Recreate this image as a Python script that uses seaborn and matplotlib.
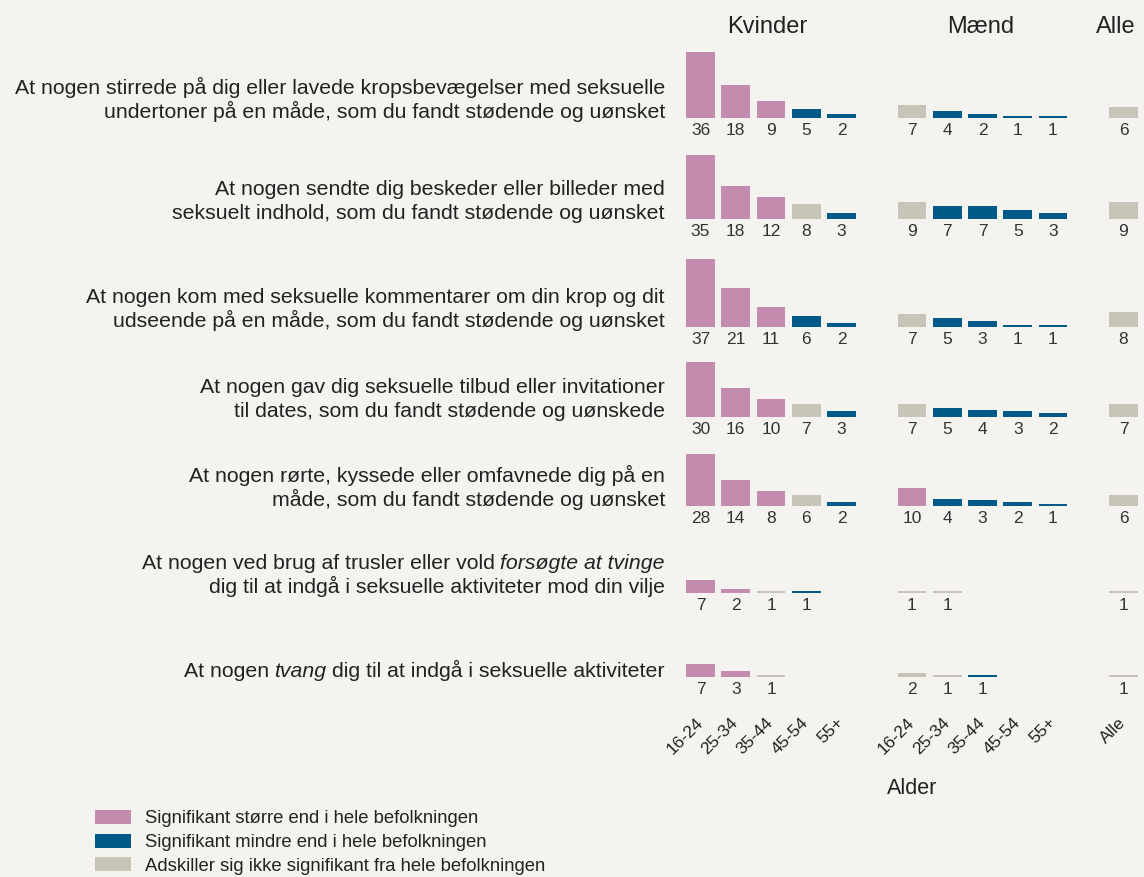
import numpy as np
import pandas as pd
import matplotlib
matplotlib.use("Agg")
import matplotlib.pyplot as plt
from matplotlib import transforms
from matplotlib.patches import Patch
import seaborn as sns

# ---------------- data ----------------
questions = [
    "At nogen stirrede på dig eller lavede kropsbevægelser med seksuelle\nundertoner på en måde, som du fandt stødende og uønsket",
    "At nogen sendte dig beskeder eller billeder med\nseksuelt indhold, som du fandt stødende og uønsket",
    "At nogen kom med seksuelle kommentarer om din krop og dit\nudseende på en måde, som du fandt stødende og uønsket",
    "At nogen gav dig seksuelle tilbud eller invitationer\ntil dates, som du fandt stødende og uønskede",
    "At nogen rørte, kyssede eller omfavnede dig på en\nmåde, som du fandt stødende og uønsket",
    "At nogen ved brug af trusler eller vold *forsøgte at tvinge*\ndig til at indgå i seksuelle aktiviteter mod din vilje",
    "At nogen *tvang* dig til at indgå i seksuelle aktiviteter",
]
age_groups = ["16-24", "25-34", "35-44", "45-54", "55+"]
group_titles = ["Kvinder", "Mænd", "Alle"]

# P = significantly larger, B = significantly smaller, G = not significant
kvinder_values = [
    [36, 18, 9, 5, 2],
    [35, 18, 12, 8, 3],
    [37, 21, 11, 6, 2],
    [30, 16, 10, 7, 3],
    [28, 14, 8, 6, 2],
    [7, 2, 1, 1, None],
    [7, 3, 1, None, None],
]
kvinder_sig = [
    ["P", "P", "P", "B", "B"],
    ["P", "P", "P", "G", "B"],
    ["P", "P", "P", "B", "B"],
    ["P", "P", "P", "G", "B"],
    ["P", "P", "P", "G", "B"],
    ["P", "P", "G", "B", None],
    ["P", "P", "G", None, None],
]
maend_values = [
    [7, 4, 2, 1, 1],
    [9, 7, 7, 5, 3],
    [7, 5, 3, 1, 1],
    [7, 5, 4, 3, 2],
    [10, 4, 3, 2, 1],
    [1, 1, None, None, None],
    [2, 1, 1, None, None],
]
maend_sig = [
    ["G", "B", "B", "B", "B"],
    ["G", "B", "B", "B", "B"],
    ["G", "B", "B", "B", "B"],
    ["G", "B", "B", "B", "B"],
    ["P", "B", "B", "B", "B"],
    ["G", "G", None, None, None],
    ["G", "G", "B", None, None],
]
alle_values = [6, 9, 8, 7, 6, 1, 1]
alle_sig = ["G", "G", "G", "G", "G", "G", "G"]

legend_labels = {
    "P": "Signifikant større end i hele befolkningen",
    "B": "Signifikant mindre end i hele befolkningen",
    "G": "Adskiller sig ikke signifikant fra hele befolkningen",
}
x_title = "Alder"

# ---------------- style ----------------
BG = "#F4F3EF"
palette = {"P": "#C38CAE", "B": "#005A87", "G": "#C8C4B8"}
TXT = "#222222"
FONT = ["Liberation Sans", "DejaVu Sans"]

sns.set_theme(style="white")
plt.rcParams["font.family"] = FONT
plt.rcParams["axes.facecolor"] = "none"

W, H = 1144, 877
fig = plt.figure(figsize=(W / 100, H / 100), dpi=100, facecolor=BG)
renderer = fig.canvas.get_renderer()

slot_order = [f"K {a}" for a in age_groups] + ["gap1"] + [f"M {a}" for a in age_groups] + ["gap2", "Alle"]
tick_slots = [s for s in slot_order if not s.startswith("gap")]
tick_labels = age_groups + age_groups + ["Alle"]

row_baselines_px = [118, 219, 327, 417, 506, 593, 677]
ymax = 40
px_per_unit = 1.84
ax_h = ymax * px_per_unit
ax_left, ax_right = 682.9, 1141.1

q_x = 665 / W
line_px = 24
Q_SIZE = 15.3


def space_width(style):
    t1 = fig.text(0, 0, "a a", fontsize=Q_SIZE, style=style)
    t2 = fig.text(0, 0, "aa", fontsize=Q_SIZE, style=style)
    w = t1.get_window_extent(renderer).width - t2.get_window_extent(renderer).width
    t1.remove(); t2.remove()
    return w


SPACE = {"normal": space_width("normal"), "italic": space_width("italic")}


def rich_line(ax, line, dy_px):
    base = transforms.blended_transform_factory(fig.transFigure, ax.transData)
    parts = line.split("*")
    segs = [(p, i % 2 == 1) for i, p in enumerate(parts) if p]
    offset = 0.0
    for text, it in reversed(segs):
        style = "italic" if it else "normal"
        trail = len(text) - len(text.rstrip(" "))
        offset += trail * SPACE[style]
        core = text.strip(" ")
        if core:
            tr = transforms.offset_copy(base, fig=fig, x=-offset, y=dy_px, units="dots")
            t = fig.text(q_x, 0, core, transform=tr, ha="right", va="baseline",
                         fontsize=Q_SIZE, style=style, color=TXT)
            offset += t.get_window_extent(renderer).width
        lead = len(text) - len(text.lstrip(" "))
        offset += lead * SPACE[style]


axes = []
for i, q in enumerate(questions):
    rows = []
    for j, a in enumerate(age_groups):
        if kvinder_values[i][j] is not None:
            rows.append((f"K {a}", kvinder_values[i][j], kvinder_sig[i][j]))
    for j, a in enumerate(age_groups):
        if maend_values[i][j] is not None:
            rows.append((f"M {a}", maend_values[i][j], maend_sig[i][j]))
    rows.append(("Alle", alle_values[i], alle_sig[i]))
    df = pd.DataFrame(rows, columns=["slot", "value", "sig"])

    b = row_baselines_px[i]
    ax = fig.add_axes([ax_left / W, (H - b) / H, (ax_right - ax_left) / W, ax_h / H])
    ax.set_facecolor("none")
    sns.barplot(data=df, x="slot", y="value", hue="sig", order=slot_order,
                hue_order=["P", "B", "G"], palette=palette, dodge=False,
                width=0.82, saturation=1, errorbar=None, legend=False,
                linewidth=0, ax=ax)
    ax.set_xlim(-0.5, len(slot_order) - 0.5)
    ax.set_ylim(0, ymax)
    ax.set_xlabel("")
    ax.set_ylabel("")
    ax.set_yticks([])
    for s in ax.spines.values():
        s.set_visible(False)

    # value labels under bars
    lab_tr = transforms.offset_copy(ax.transData, fig=fig, x=0, y=-17, units="dots")
    for _, r in df.iterrows():
        xpos = slot_order.index(r["slot"])
        ax.text(xpos, 0, f"{int(r['value'])}", transform=lab_tr, ha="center",
                va="baseline", fontsize=12.5, color="#333333")

    # question text
    lines = q.split("\n")
    n = len(lines)
    for k, line in enumerate(lines):
        rich_line(ax, line, (n - 1 - k) * line_px)

    if i < len(questions) - 1:
        ax.set_xticks([])
    else:
        ax.set_xticks([slot_order.index(s) for s in tick_slots])
        ax.set_xticklabels(tick_labels)
        ax.tick_params(axis="x", length=0, pad=31, labelsize=12.5, labelcolor=TXT)
        for lbl in ax.get_xticklabels():
            lbl.set_rotation(45)
            lbl.set_ha("right")
            lbl.set_va("center")
            lbl.set_rotation_mode("anchor")
        ax.set_xlabel(x_title, fontsize=15.5, color=TXT)
        ax.xaxis.set_label_coords(0.5, -(789 - b) / ax_h)
        ax.xaxis.label.set_va("center")
    axes.append(ax)

# group titles
top_ax = axes[0]
for title, slot, dx in zip(group_titles, ["K 35-44", "M 35-44", "Alle"], [-4, -2, -8]):
    base = transforms.blended_transform_factory(top_ax.transData, fig.transFigure)
    tr = transforms.offset_copy(base, fig=fig, x=dx, y=0, units="dots")
    top_ax.text(slot_order.index(slot), 1 - 27 / H, title, transform=tr,
                ha="center", va="center", fontsize=17, color=TXT)

# legend
handles = [Patch(facecolor=palette[k], edgecolor="none", label=legend_labels[k]) for k in ["P", "B", "G"]]
fig.legend(handles=handles, loc="upper left", bbox_to_anchor=(95 / W, 1 - 810 / H),
           frameon=False, fontsize=13.3, handlelength=1.95, handleheight=0.8,
           handletextpad=0.75, labelspacing=0.33, borderpad=0, borderaxespad=0,
           labelcolor=TXT)

fig.savefig("out.png", dpi=100, facecolor=BG)
